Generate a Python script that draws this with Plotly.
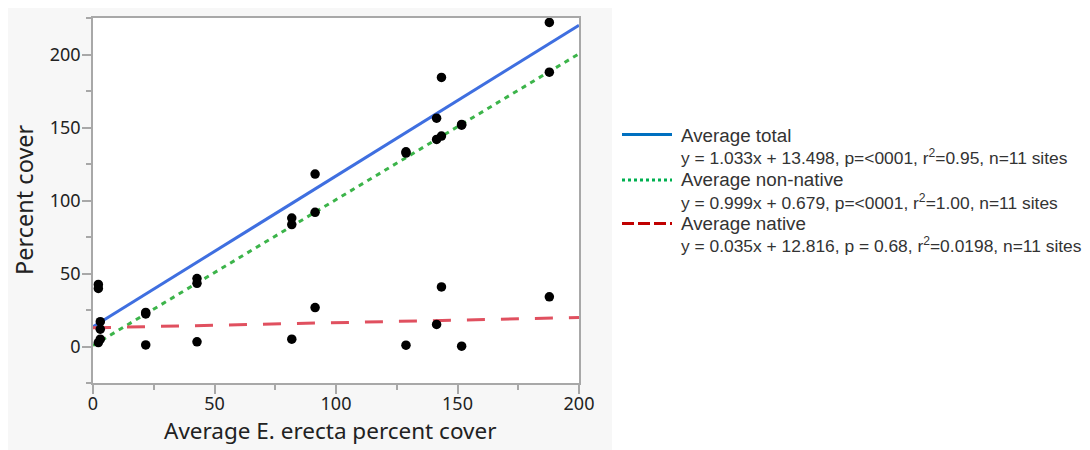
import plotly.graph_objects as go

# ---- data ----
erecta_cover = [2.2, 3.0, 21.7, 42.8, 81.8, 91.4, 128.8, 141.4, 143.4, 151.7, 187.8]
total_cover = [42.5, 17.0, 23.3, 46.5, 88.0, 118.1, 133.4, 156.4, 184.3, 152.1, 222.0]
nonnative_cover = [2.7, 5.0, 22.3, 43.3, 83.5, 91.9, 132.5, 141.8, 144.1, 151.6, 187.9]
native_cover = [39.8, 11.9, 1.1, 3.2, 5.0, 26.7, 0.9, 15.1, 40.8, 0.2, 34.0]

fit_names = ["Average total", "Average non-native", "Average native"]
fit_slopes = [1.033, 0.999, 0.035]
fit_intercepts = [13.498, 0.679, 12.816]
fit_x = [0, 200]
fit_labels = [
    "y = 1.033x + 13.498, p=<0001, r<sup>2</sup>=0.95, n=11 sites",
    "y = 0.999x + 0.679, p=<0001, r<sup>2</sup>=1.00, n=11 sites",
    "y = 0.035x + 12.816, p = 0.68, r<sup>2</sup>=0.0198, n=11 sites",
]
x_ticks = [0, 50, 100, 150, 200]
y_ticks = [0, 50, 100, 150, 200]
x_title = "Average E. erecta percent cover"
y_title = "Percent cover"

# ---- styles ----
plot_colors = ["#3f6fe0", "#3cb44a", "#e0505f"]
plot_dash = ["solid", "5px,5px", "18px,16px"]
legend_colors = ["#0070c0", "#00b050", "#c00000"]
legend_dash = ["solid", "dot", "12px,4px"]

# page has an 8px body margin: figure coordinates = page coordinates - 8
OFF = 8
W, H = 1090 - OFF, 450 - OFF
L, R, T, B = 93 - OFF, 579 - OFF, 18 - OFF, 383 - OFF


def px(p):
    return (p - OFF - L) / (R - L)


def py(p):
    return (B - (p - OFF)) / (B - T)


fig = go.Figure()

for name, m, c, col, dsh in zip(fit_names, fit_slopes, fit_intercepts, plot_colors, plot_dash):
    fig.add_trace(go.Scatter(
        x=fit_x, y=[m * xv + c for xv in fit_x], mode="lines",
        line=dict(color=col, width=3, dash=dsh), name=name, showlegend=False,
        hoverinfo="skip"))

for name, ys in zip(fit_names, [total_cover, nonnative_cover, native_cover]):
    fig.add_trace(go.Scatter(
        x=erecta_cover, y=ys, mode="markers", name=name, showlegend=False,
        marker=dict(color="black", size=9.5)))

shapes = [
    dict(type="rect", xref="paper", yref="paper", x0=px(OFF), x1=px(612), y0=py(OFF), y1=py(460),
         fillcolor="#f7f7f7", line=dict(width=0), layer="below"),
    dict(type="rect", xref="paper", yref="paper", x0=0, x1=1, y0=0, y1=1,
         fillcolor="white", line=dict(width=0), layer="below"),
]
annotations = [
    dict(xref="paper", yref="paper", x=px(329.5), y=py(430), xanchor="center", yanchor="middle",
         showarrow=False, text=x_title,
         font=dict(family="Noto Sans", size=22.5, color="#222222")),
    dict(xref="paper", yref="paper", x=px(23.5), y=py(199.5), xanchor="center", yanchor="middle",
         showarrow=False, text=y_title, textangle=-90,
         font=dict(family="Noto Sans", size=23.5, color="#222222")),
]
line_y = [134.5, 180, 223.5]
head_y = [135, 179.5, 223.5]
eq_y = [157, 201.5, 245]
for i in range(3):
    shapes.append(dict(type="line", xref="paper", yref="paper",
                       x0=px(622), x1=px(672), y0=py(line_y[i]), y1=py(line_y[i]),
                       line=dict(color=legend_colors[i], width=3, dash=legend_dash[i])))
    annotations.append(dict(xref="paper", yref="paper", x=px(679), y=py(head_y[i]),
                            xanchor="left", yanchor="middle", showarrow=False,
                            text=fit_names[i],
                            font=dict(family="Liberation Sans, Arial", size=18.8, color="#333333")))
    annotations.append(dict(xref="paper", yref="paper", x=px(679), y=py(eq_y[i]),
                            xanchor="left", yanchor="middle", showarrow=False,
                            text=fit_labels[i],
                            font=dict(family="Liberation Sans, Arial", size=17.4, color="#333333")))

axis_common = dict(
    showgrid=False, zeroline=False, showline=True, linecolor="#a8a8a8", linewidth=1.5,
    mirror=True, ticks="outside", ticklen=9, tickwidth=1.5, tickcolor="#a8a8a8",
    tickfont=dict(family="Noto Sans", size=18, color="#222222"),
    minor=dict(ticks="outside", ticklen=5, tickwidth=1.5, tickcolor="#a8a8a8", dtick=25),
    automargin=False,
)

fig.update_layout(
    width=W, height=H,
    margin=dict(l=L, r=W - R, t=T, b=H - B, pad=0),
    paper_bgcolor="white", plot_bgcolor="white",
    showlegend=False,
    shapes=shapes, annotations=annotations,
    xaxis=dict(range=[0, 200], tickvals=x_ticks, ticktext=[str(v) for v in x_ticks],
               ticklabelstandoff=-5, **axis_common),
    yaxis=dict(range=[-25, 225], tickvals=y_ticks, ticktext=[str(v) for v in y_ticks],
               ticklabelstandoff=-2, **axis_common),
)

fig.write_html("out.html")
